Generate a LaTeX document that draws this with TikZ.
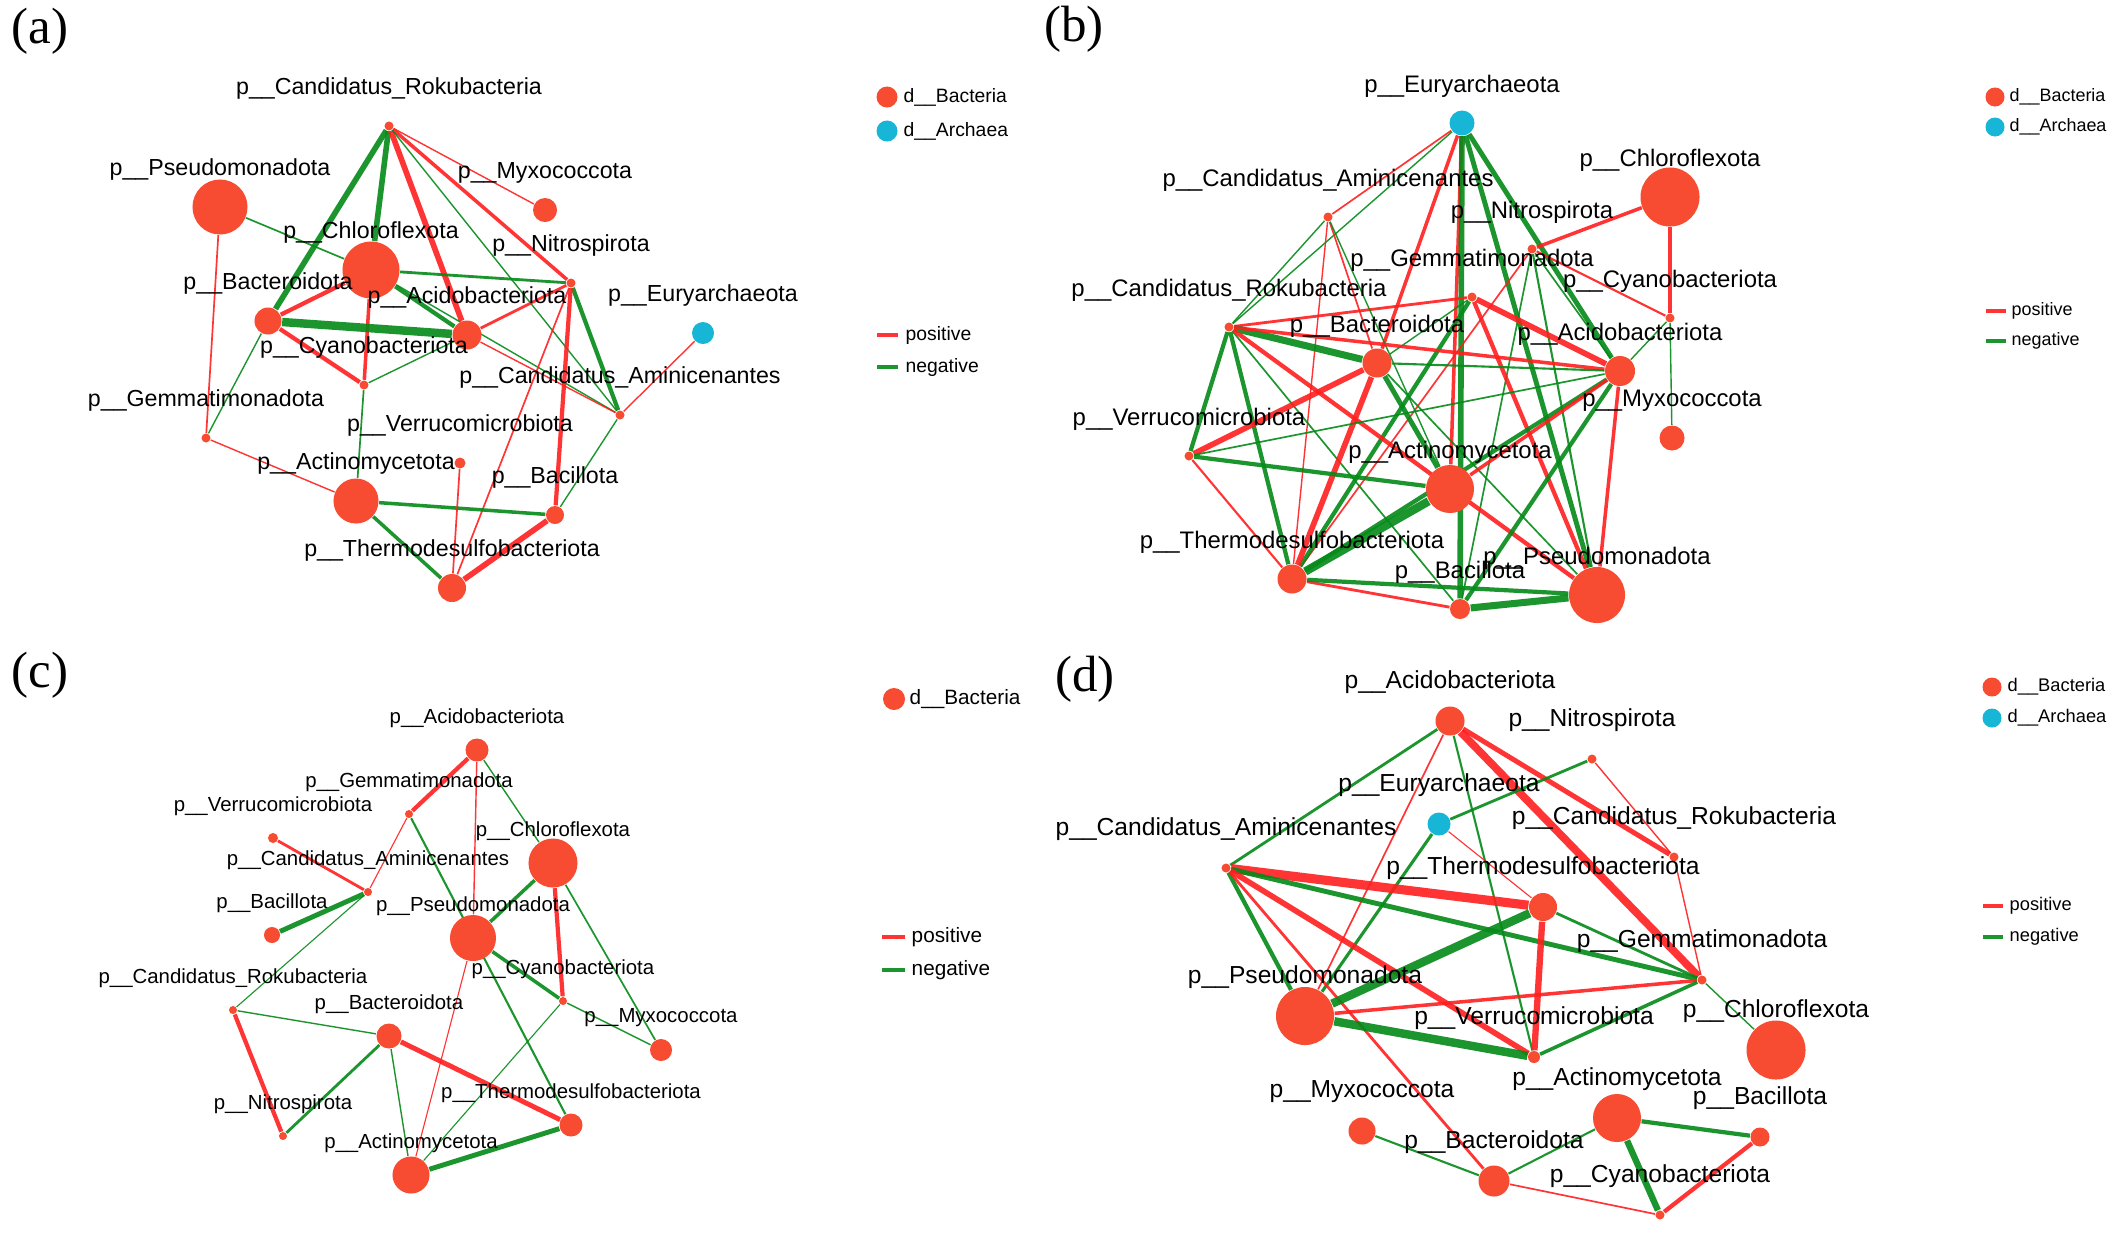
\documentclass[tikz,border=0pt]{standalone}
\usepackage{fontspec}
\setmainfont{Liberation Sans}
\newfontfamily\serifpanel{Liberation Serif}
\definecolor{bact}{RGB}{247,75,50}
\definecolor{arch}{RGB}{24,182,214}
\definecolor{posc}{RGB}{255,30,30}
\definecolor{negc}{RGB}{5,138,25}
\pgfdeclarelayer{bgl}
\pgfdeclarelayer{edges}
\pgfsetlayers{bgl,edges,main}
\tikzset{
  nb/.style={circle,fill=bact,inner sep=0pt,draw=none},
  na/.style={circle,fill=arch,inner sep=0pt,draw=none},
  edgep/.style={draw=posc,draw opacity=0.9},
  edgen/.style={draw=negc,draw opacity=0.9},
  la/.style={inner sep=0pt,font=\fontsize{6.6}{7}\selectfont},
  lb/.style={inner sep=0pt,font=\fontsize{6.8}{7}\selectfont},
  lc/.style={inner sep=0pt,font=\fontsize{5.8}{6}\selectfont},
  ld/.style={inner sep=0pt,font=\fontsize{7.0}{7}\selectfont},
  lga/.style={inner sep=0pt,anchor=west,font=\fontsize{5.5}{6}\selectfont},
  lgb/.style={inner sep=0pt,anchor=west,font=\fontsize{5.1}{6}\selectfont},
  lgc/.style={inner sep=0pt,anchor=west,font=\fontsize{5.9}{6}\selectfont},
  lgd/.style={inner sep=0pt,anchor=west,font=\fontsize{5.2}{6}\selectfont},
  pnl/.style={inner sep=0pt,font=\serifpanel\fontsize{14.5}{14.5}\selectfont},
  lgline/.style={line width=1.2pt}
}
\newcommand\mkB[4]{\node[nb,minimum size=#4*0.2mm] (#1) at (#2,#3) {};}
\newcommand\mkA[4]{\node[na,minimum size=#4*0.2mm] (#1) at (#2,#3) {};}
\newcommand\edP[3]{\draw[edgep,line width=#3*0.4pt] (#1) -- (#2);}
\newcommand\edN[3]{\draw[edgen,line width=#3*0.4pt] (#1) -- (#2);}
\newcommand\labA[2]{\node[la] at ([yshift=3.7mm]#1.center) {#2};}
\newcommand\labB[2]{\node[lb] at ([yshift=3.7mm]#1.center) {#2};}
\newcommand\labC[2]{\node[lc] at ([yshift=3.2mm]#1.center) {#2};}
\newcommand\labD[2]{\node[ld] at ([yshift=3.9mm]#1.center) {#2};}
\begin{document}
\begin{tikzpicture}[x=0.01cm,y=-0.01cm]
\begin{pgfonlayer}{bgl}
\fill[white] (0,0) rectangle (2119,1239);
\end{pgfonlayer}
\useasboundingbox (0,0) rectangle (2119,1239);

% ================= panel (a) =================
\node[pnl] (pa) at (40,31) {(a)};
\mkB{a-ro}{389}{126}{4.5}
\mkB{a-ps}{220}{207}{27.5}
\mkB{a-my}{545}{210}{12}
\mkB{a-cf}{371}{270}{28.5}
\mkB{a-ni}{571}{283}{4.5}
\mkB{a-bt}{268}{321}{13.5}
\mkB{a-ac}{467}{335}{14.5}
\mkA{a-eu}{703}{333}{11}
\mkB{a-cy}{364}{385}{4.5}
\mkB{a-am}{620}{415}{4.5}
\mkB{a-ge}{206}{438}{4.5}
\mkB{a-ve}{460}{463}{5.5}
\mkB{a-at}{356}{501}{22.5}
\mkB{a-bc}{555}{515}{9}
\mkB{a-th}{452}{588}{14}
\begin{pgfonlayer}{edges}
\edN{a-ro}{a-bt}{4}
\edN{a-ro}{a-cf}{4}
\edP{a-ro}{a-ac}{4}
\edP{a-ro}{a-my}{1}
\edP{a-ro}{a-ni}{2.5}
\edN{a-ro}{a-am}{1}
\edN{a-ps}{a-cf}{1.2}
\edP{a-ps}{a-ge}{1.2}
\edN{a-cf}{a-ni}{2}
\edN{a-cf}{a-ac}{3}
\edP{a-cf}{a-bt}{3}
\edP{a-cf}{a-cy}{2.5}
\edN{a-cf}{a-am}{1}
\edN{a-bt}{a-ac}{6}
\edP{a-bt}{a-cy}{3}
\edN{a-bt}{a-ge}{1}
\edN{a-cy}{a-ac}{1}
\edN{a-cy}{a-at}{1.2}
\edP{a-ac}{a-ni}{2}
\edP{a-ac}{a-am}{1}
\edN{a-ni}{a-am}{3}
\edP{a-ni}{a-bc}{3}
\edP{a-ni}{a-th}{1.2}
\edP{a-eu}{a-am}{1}
\edN{a-am}{a-bc}{1}
\edP{a-ge}{a-at}{1}
\edN{a-at}{a-bc}{2.5}
\edN{a-at}{a-th}{2.5}
\edP{a-ve}{a-th}{1.2}
\edP{a-bc}{a-th}{4}
\end{pgfonlayer}
\labA{a-ro}{p\_\_Candidatus\_Rokubacteria}
\labA{a-ps}{p\_\_Pseudomonadota}
\labA{a-my}{p\_\_Myxococcota}
\labA{a-cf}{p\_\_Chloroflexota}
\labA{a-ni}{p\_\_Nitrospirota}
\labA{a-bt}{p\_\_Bacteroidota}
\labA{a-ac}{p\_\_Acidobacteriota}
\labA{a-eu}{p\_\_Euryarchaeota}
\labA{a-cy}{p\_\_Cyanobacteriota}
\labA{a-am}{p\_\_Candidatus\_Aminicenantes}
\labA{a-ge}{p\_\_Gemmatimonadota}
\labA{a-ve}{p\_\_Verrucomicrobiota}
\labA{a-at}{p\_\_Actinomycetota}
\labA{a-bc}{p\_\_Bacillota}
\labA{a-th}{p\_\_Thermodesulfobacteriota}
% legend a
\node[nb,minimum size=2.1mm] (a-lgb) at (887,97) {};
\node[na,minimum size=2.1mm] (a-lga) at (887,131) {};
\node[lga] (a-lgbt) at (903,97) {d\_\_Bacteria};
\node[lga] (a-lgat) at (903,131) {d\_\_Archaea};
\coordinate (a-p1) at (877,335); \coordinate (a-p2) at (898,335);
\coordinate (a-n1) at (877,367); \coordinate (a-n2) at (898,367);
\draw[edgep,lgline] (a-p1) -- (a-p2);
\draw[edgen,lgline] (a-n1) -- (a-n2);
\node[lga] (a-lgp) at (905,335) {positive};
\node[lga] (a-lgn) at (905,367) {negative};

% ================= panel (b) =================
\node[pnl] (pb) at (1074,29) {(b)};
\mkA{b-eu}{1462}{123}{12.5}
\mkB{b-cf}{1670}{197}{29.5}
\mkB{b-am}{1328}{217}{4.5}
\mkB{b-ni}{1532}{249}{4.5}
\mkB{b-ge}{1472}{297}{4.5}
\mkB{b-cy}{1670}{318}{4.5}
\mkB{b-ro}{1229}{327}{4.5}
\mkB{b-bt}{1377}{363}{14.5}
\mkB{b-ac}{1620}{371}{15}
\mkB{b-my}{1672}{438}{12.5}
\mkB{b-ve}{1189}{456}{4.5}
\mkB{b-at}{1450}{489}{24}
\mkB{b-th}{1292}{579}{14.5}
\mkB{b-bc}{1460}{609}{10}
\mkB{b-ps}{1597}{595}{28}
\begin{pgfonlayer}{edges}
\edP{b-eu}{b-am}{1.2}
\edN{b-eu}{b-ro}{1}
\edP{b-eu}{b-bt}{2.5}
\edP{b-eu}{b-at}{2.5}
\edN{b-eu}{b-bc}{4}
\edN{b-eu}{b-ac}{3.5}
\edN{b-eu}{b-ps}{3.5}
\edP{b-cf}{b-ni}{2.5}
\edP{b-cf}{b-cy}{2.5}
\edP{b-ni}{b-cy}{1.5}
\edP{b-ni}{b-th}{1.2}
\edN{b-ni}{b-ac}{1.2}
\edN{b-ni}{b-ps}{1.5}
\edN{b-ni}{b-bc}{1.2}
\edP{b-ge}{b-ac}{4}
\edP{b-ge}{b-ro}{2}
\edP{b-ge}{b-ps}{3}
\edN{b-ge}{b-th}{3}
\edN{b-ge}{b-bt}{1}
\edN{b-am}{b-ro}{1}
\edP{b-am}{b-th}{1}
\edP{b-am}{b-bt}{1.2}
\edN{b-am}{b-at}{1}
\edN{b-ro}{b-ve}{3}
\edN{b-ro}{b-th}{3}
\edN{b-ro}{b-bt}{5}
\edN{b-ro}{b-bc}{1.2}
\edP{b-ro}{b-ps}{3}
\edP{b-ro}{b-ac}{2.5}
\edP{b-bt}{b-ve}{4}
\edP{b-bt}{b-th}{4}
\edN{b-bt}{b-at}{3.5}
\edN{b-bt}{b-ac}{1.5}
\edN{b-bt}{b-ps}{1.2}
\edP{b-ve}{b-th}{1.5}
\edN{b-ve}{b-at}{3}
\edN{b-ve}{b-ac}{1.2}
\edN{b-th}{b-at}{6}
\edN{b-th}{b-ac}{3}
\edP{b-th}{b-bc}{2}
\edN{b-th}{b-ps}{3}
\edP{b-at}{b-ac}{2.5}
\edN{b-ac}{b-bc}{3}
\edP{b-ac}{b-ps}{2.5}
\edN{b-ac}{b-cy}{1}
\edN{b-cy}{b-my}{1}
\edN{b-bc}{b-ps}{5}
\end{pgfonlayer}
\labB{b-eu}{p\_\_Euryarchaeota}
\labB{b-cf}{p\_\_Chloroflexota}
\labB{b-am}{p\_\_Candidatus\_Aminicenantes}
\labB{b-ni}{p\_\_Nitrospirota}
\labB{b-ge}{p\_\_Gemmatimonadota}
\labB{b-cy}{p\_\_Cyanobacteriota}
\labB{b-ro}{p\_\_Candidatus\_Rokubacteria}
\labB{b-bt}{p\_\_Bacteroidota}
\labB{b-ac}{p\_\_Acidobacteriota}
\labB{b-my}{p\_\_Myxococcota}
\labB{b-ve}{p\_\_Verrucomicrobiota}
\labB{b-at}{p\_\_Actinomycetota}
\labB{b-th}{p\_\_Thermodesulfobacteriota}
\labB{b-bc}{p\_\_Bacillota}
\labB{b-ps}{p\_\_Pseudomonadota}
% legend b
\node[nb,minimum size=1.9mm] (b-lgb) at (1995,97) {};
\node[na,minimum size=1.9mm] (b-lga) at (1995,127) {};
\node[lgb] (b-lgbt) at (2009,97) {d\_\_Bacteria};
\node[lgb] (b-lgat) at (2009,127) {d\_\_Archaea};
\coordinate (b-p1) at (1986,311); \coordinate (b-p2) at (2006,311);
\coordinate (b-n1) at (1986,341); \coordinate (b-n2) at (2006,341);
\draw[edgep,lgline] (b-p1) -- (b-p2);
\draw[edgen,lgline] (b-n1) -- (b-n2);
\node[lgb] (b-lgp) at (2011,311) {positive};
\node[lgb] (b-lgn) at (2011,341) {negative};

% ================= panel (c) =================
\node[pnl] (pc) at (40,675) {(c)};
\mkB{c-ac}{477}{750}{11.5}
\mkB{c-ge}{409}{814}{4}
\mkB{c-ve}{273}{838}{5}
\mkB{c-cf}{553}{863}{24.5}
\mkB{c-am}{368}{892}{4}
\mkB{c-bc}{272}{935}{8}
\mkB{c-ps}{473}{938}{23}
\mkB{c-ro}{233}{1010}{4}
\mkB{c-cy}{563}{1001}{4}
\mkB{c-bt}{389}{1036}{12.5}
\mkB{c-my}{661}{1050}{11}
\mkB{c-th}{571}{1125}{11.5}
\mkB{c-ni}{283}{1136}{4}
\mkB{c-at}{411}{1175}{18.5}
\begin{pgfonlayer}{edges}
\edP{c-ac}{c-ge}{3}
\edP{c-ac}{c-ps}{1}
\edN{c-ac}{c-cf}{1}
\edP{c-ge}{c-am}{0.8}
\edN{c-ge}{c-th}{1.5}
\edP{c-ve}{c-am}{2}
\edN{c-am}{c-bc}{3.5}
\edN{c-am}{c-ro}{0.8}
\edN{c-cf}{c-ps}{2.5}
\edP{c-cf}{c-cy}{3}
\edN{c-cf}{c-my}{1.2}
\edN{c-ps}{c-cy}{2.5}
\edP{c-ps}{c-at}{0.8}
\edN{c-cy}{c-my}{1}
\edN{c-cy}{c-at}{0.8}
\edN{c-ro}{c-bt}{1}
\edP{c-ro}{c-ni}{3}
\edN{c-bt}{c-ni}{2}
\edP{c-bt}{c-th}{3.5}
\edN{c-bt}{c-at}{1}
\edN{c-th}{c-at}{3.5}
\end{pgfonlayer}
\labC{c-ac}{p\_\_Acidobacteriota}
\labC{c-ge}{p\_\_Gemmatimonadota}
\labC{c-ve}{p\_\_Verrucomicrobiota}
\labC{c-cf}{p\_\_Chloroflexota}
\labC{c-am}{p\_\_Candidatus\_Aminicenantes}
\labC{c-bc}{p\_\_Bacillota}
\labC{c-ps}{p\_\_Pseudomonadota}
\labC{c-ro}{p\_\_Candidatus\_Rokubacteria}
\labC{c-cy}{p\_\_Cyanobacteriota}
\labC{c-bt}{p\_\_Bacteroidota}
\labC{c-my}{p\_\_Myxococcota}
\labC{c-th}{p\_\_Thermodesulfobacteriota}
\labC{c-ni}{p\_\_Nitrospirota}
\labC{c-at}{p\_\_Actinomycetota}
% legend c
\node[nb,minimum size=2.2mm] (c-lgb) at (894,699) {};
\node[lgc] (c-lgbt) at (909,699) {d\_\_Bacteria};
\coordinate (c-p1) at (882,937); \coordinate (c-p2) at (905,937);
\coordinate (c-n1) at (882,970); \coordinate (c-n2) at (905,970);
\draw[edgep,lgline] (c-p1) -- (c-p2);
\draw[edgen,lgline] (c-n1) -- (c-n2);
\node[lgc] (c-lgp) at (911,937) {positive};
\node[lgc] (c-lgn) at (911,970) {negative};

% ================= panel (d) =================
\node[pnl] (pd) at (1085,679) {(d)};
\mkB{d-ac}{1450}{721}{14.5}
\mkB{d-ni}{1592}{759}{4.5}
\mkA{d-eu}{1439}{824}{11.5}
\mkB{d-ro}{1674}{857}{4.5}
\mkB{d-am}{1226}{868}{4.5}
\mkB{d-th}{1543}{907}{14}
\mkB{d-ge}{1702}{980}{4.5}
\mkB{d-ps}{1305}{1016}{29}
\mkB{d-ve}{1534}{1057}{6}
\mkB{d-cf}{1776}{1050}{29.5}
\mkB{d-at}{1617}{1118}{24}
\mkB{d-bc}{1760}{1137}{9.5}
\mkB{d-my}{1362}{1131}{13.5}
\mkB{d-bt}{1494}{1181}{15.5}
\mkB{d-cy}{1660}{1215}{4.5}
\begin{pgfonlayer}{edges}
\edN{d-ac}{d-am}{2}
\edP{d-ac}{d-ps}{1.2}
\edN{d-ac}{d-ve}{1.5}
\edP{d-ac}{d-ge}{5.5}
\edP{d-ac}{d-ro}{3.5}
\edN{d-ni}{d-eu}{2}
\edP{d-ni}{d-ro}{1}
\edP{d-ro}{d-ge}{1}
\edN{d-eu}{d-ps}{2.2}
\edP{d-eu}{d-th}{0.8}
\edP{d-am}{d-th}{6.5}
\edN{d-am}{d-ge}{3.5}
\edN{d-am}{d-ps}{3}
\edP{d-am}{d-ve}{4}
\edP{d-am}{d-bt}{2}
\edN{d-th}{d-ps}{6}
\edP{d-th}{d-ve}{4.5}
\edN{d-th}{d-ge}{2}
\edP{d-ps}{d-ge}{2.5}
\edN{d-ps}{d-ve}{6}
\edN{d-ve}{d-ge}{2.5}
\edN{d-ge}{d-cf}{1}
\edN{d-at}{d-bc}{3}
\edN{d-at}{d-cy}{4.5}
\edN{d-at}{d-bt}{1.5}
\edP{d-bc}{d-cy}{3}
\edN{d-my}{d-bt}{1.5}
\edP{d-bt}{d-cy}{1.2}
\end{pgfonlayer}
\labD{d-ac}{p\_\_Acidobacteriota}
\labD{d-ni}{p\_\_Nitrospirota}
\labD{d-eu}{p\_\_Euryarchaeota}
\labD{d-ro}{p\_\_Candidatus\_Rokubacteria}
\labD{d-am}{p\_\_Candidatus\_Aminicenantes}
\labD{d-th}{p\_\_Thermodesulfobacteriota}
\labD{d-ge}{p\_\_Gemmatimonadota}
\labD{d-ps}{p\_\_Pseudomonadota}
\labD{d-ve}{p\_\_Verrucomicrobiota}
\labD{d-cf}{p\_\_Chloroflexota}
\labD{d-at}{p\_\_Actinomycetota}
\labD{d-bc}{p\_\_Bacillota}
\labD{d-my}{p\_\_Myxococcota}
\labD{d-bt}{p\_\_Bacteroidota}
\labD{d-cy}{p\_\_Cyanobacteriota}
% legend d
\node[nb,minimum size=1.9mm] (d-lgb) at (1992,687) {};
\node[na,minimum size=1.9mm] (d-lga) at (1992,718) {};
\node[lgd] (d-lgbt) at (2007,687) {d\_\_Bacteria};
\node[lgd] (d-lgat) at (2007,718) {d\_\_Archaea};
\coordinate (d-p1) at (1983,906); \coordinate (d-p2) at (2003,906);
\coordinate (d-n1) at (1983,937); \coordinate (d-n2) at (2003,937);
\draw[edgep,lgline] (d-p1) -- (d-p2);
\draw[edgen,lgline] (d-n1) -- (d-n2);
\node[lgd] (d-lgp) at (2009,906) {positive};
\node[lgd] (d-lgn) at (2009,937) {negative};
\end{tikzpicture}
\end{document}
